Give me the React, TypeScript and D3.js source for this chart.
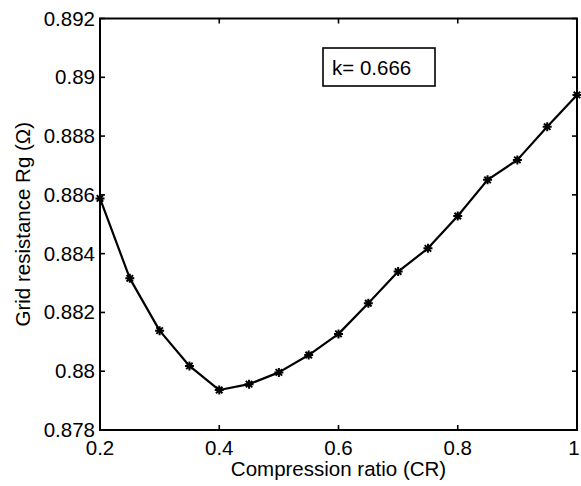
import { useEffect, useRef } from 'react';
import * as d3 from 'd3';

const crValues = [0.2, 0.25, 0.3, 0.35, 0.4, 0.45, 0.5, 0.55, 0.6, 0.65, 0.7, 0.75, 0.8, 0.85, 0.9, 0.95, 1.0];
const rgValues = [0.88588, 0.88316, 0.88138, 0.88018, 0.87936, 0.87956, 0.87996, 0.88055, 0.88127, 0.88231, 0.88339, 0.88418, 0.88528, 0.88651, 0.88719, 0.88832, 0.8894];
const xTicks = [0.2, 0.4, 0.6, 0.8, 1];
const yTicks = [0.878, 0.88, 0.882, 0.884, 0.886, 0.888, 0.89, 0.892];
const legendText = 'k= 0.666';
const xLabel = 'Compression ratio (CR)';
const yLabel = 'Grid resistance Rg (Ω)';

const W = 581, H = 486;
const M = { left: 100, right: 4, top: 18.5, bottom: 56 };
const FONT = 'Liberation Sans, Arial, sans-serif';
const FS = 20.5;

// matlab-style '*' marker: plus + cross
const star = (r: number) => {
  const d = r * 0.72;
  return `M${-r},0L${r},0M0,${-r}L0,${r}M${-d},${-d}L${d},${d}M${-d},${d}L${d},${-d}`;
};

export default function App() {
  const ref = useRef<SVGSVGElement>(null);

  useEffect(() => {
    const svg = d3.select(ref.current);
    svg.selectAll('*').remove();

    const x = d3.scaleLinear().domain([0.2, 1]).range([M.left, W - M.right]);
    const y = d3.scaleLinear().domain([0.878, 0.892]).range([H - M.bottom, M.top]);
    const [x0, x1] = x.range();
    const [y0, y1] = y.range();

    svg.append('rect').attr('width', W).attr('height', H).attr('fill', '#fff');

    const tickLen = 5;
    const axes = svg.append('g').attr('stroke', '#000').attr('stroke-width', 1.6);
    // ticks, inward on all four sides
    xTicks.forEach(t => {
      axes.append('line').attr('x1', x(t)).attr('x2', x(t)).attr('y1', y0).attr('y2', y0 - tickLen);
      axes.append('line').attr('x1', x(t)).attr('x2', x(t)).attr('y1', y1).attr('y2', y1 + tickLen);
    });
    yTicks.forEach(t => {
      axes.append('line').attr('x1', x0).attr('x2', x0 + tickLen).attr('y1', y(t)).attr('y2', y(t));
      axes.append('line').attr('x1', x1).attr('x2', x1 - tickLen).attr('y1', y(t)).attr('y2', y(t));
    });
    axes.append('rect')
      .attr('x', x0).attr('y', y1).attr('width', x1 - x0).attr('height', y0 - y1)
      .attr('fill', 'none').attr('stroke-width', 2);

    const txt = svg.append('g').attr('font-family', FONT).attr('font-size', FS).attr('fill', '#000');
    txt.selectAll('.xt').data(xTicks).join('text')
      .attr('x', d => Math.min(x(d), W - 7)).attr('y', y0 + 25).attr('text-anchor', 'middle')
      .text(d => d3.format('~g')(d));
    txt.selectAll('.yt').data(yTicks).join('text')
      .attr('x', x0 - 5).attr('y', d => y(d) + 7).attr('text-anchor', 'end')
      .text(d => d3.format('~g')(d));

    txt.append('text').attr('x', (x0 + x1) / 2).attr('y', 476).attr('text-anchor', 'middle').text(xLabel);
    txt.append('text')
      .attr('transform', `translate(30,${(y0 + y1) / 2}) rotate(-90)`)
      .attr('text-anchor', 'middle').text(yLabel);

    const pts = crValues.map((c, i) => [c, rgValues[i]] as [number, number]);
    const line = d3.line<[number, number]>().x(d => x(d[0])).y(d => y(d[1]));
    svg.append('path').datum(pts).attr('d', line)
      .attr('fill', 'none').attr('stroke', '#000').attr('stroke-width', 2.2).attr('stroke-linejoin', 'round');

    svg.append('g').selectAll('path').data(pts).join('path')
      .attr('transform', d => `translate(${x(d[0])},${y(d[1])})`)
      .attr('d', star(4.5)).attr('stroke', '#000').attr('stroke-width', 2).attr('fill', 'none');

    // legend box
    const lg = svg.append('g');
    lg.append('rect').attr('x', 323).attr('y', 48).attr('width', 112).attr('height', 38)
      .attr('fill', '#fff').attr('stroke', '#000').attr('stroke-width', 1.6);
    lg.append('text').attr('x', 332).attr('y', 75).attr('font-family', FONT).attr('font-size', FS)
      .text(legendText);
  }, []);

  return (
    <svg ref={ref} width={W} height={H} style={{ position: 'absolute', left: 0, top: 0 }} />
  );
}
